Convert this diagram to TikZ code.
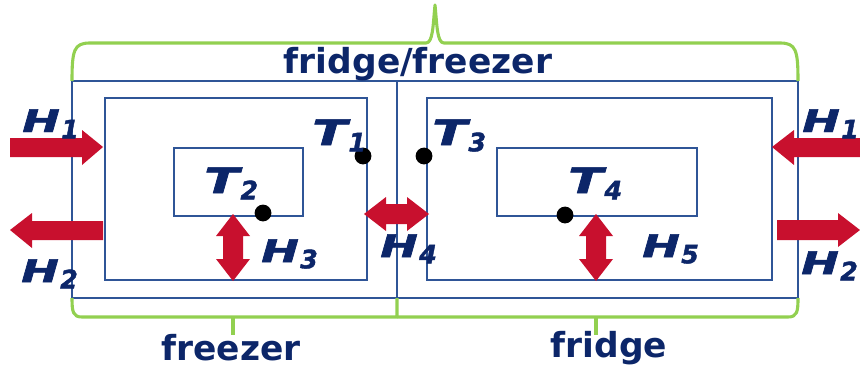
\documentclass[tikz,border=0pt]{standalone}
\usepackage{fontspec}
\usepackage{graphicx}
\newfontfamily\dvs{DejaVu Sans}
\newfontfamily\lblfont{DejaVu Sans}[FakeBold=1.6]
\definecolor{navy}{RGB}{12,38,105}
\definecolor{boxblue}{RGB}{47,85,151}
\definecolor{heatred}{RGB}{200,16,46}
\definecolor{bracegreen}{RGB}{146,208,80}
\newcommand\lab[3]{{\lblfont\bfseries\itshape\fontsize{#3}{#3}\selectfont\scalebox{1.45}[1]{#1}\kern1pt\raisebox{-4.5pt}{\fontsize{18}{18}\selectfont #2}}}
\begin{document}
\begin{tikzpicture}[x=0.025cm,y=-0.025cm,
  wall/.style={draw=boxblue,line width=1.4pt},
  brace/.style={draw=bracegreen,line width=2.2pt,line join=round},
  heat/.style={fill=heatred,draw=none},
  probe/.style={circle,fill=black,inner sep=0pt,minimum size=0.42cm},
  lbl/.style={anchor=base west,inner sep=0pt,text=navy},
  ttl/.style={anchor=base,inner sep=0pt,text=navy,font=\dvs\bfseries\fontsize{24.5}{24.5}\selectfont}]
\useasboundingbox (0,0) rectangle (860,374);
% walls
\draw[wall] (72,81) rectangle (798,298);
\draw[wall] (397,81) -- (397,298);
\draw[wall] (105,98) rectangle (367,280);
\draw[wall] (174,148) rectangle (303,216);
\draw[wall] (427,98) rectangle (772,280);
\draw[wall] (497,148) rectangle (697,216);
% braces
\draw[brace] (72,81) .. controls (72,50) and (74,43) .. (90,43) -- (426,43)
  .. controls (433,43) and (433,25) .. (435,5) .. controls (437,25) and (437,43) .. (444,43)
  -- (780,43) .. controls (796,43) and (798,50) .. (798,81);
\draw[brace] (72,298) .. controls (72,312) and (73,317) .. (82,317) -- (397,317) -- (397,298);
\draw[brace] (233,317) -- (233,335);
\draw[brace] (397,317) -- (788,317) .. controls (797,317) and (798,312) .. (798,298);
\draw[brace] (596,317) -- (596,335);
% heat arrows
\fill[heat] (10,138) -- (82,138) -- (82,130) -- (103,147) -- (82,165) -- (82,157) -- (10,157) -- cycle;
\fill[heat] (103,221) -- (32,221) -- (32,213) -- (10,230) -- (32,248) -- (32,240) -- (103,240) -- cycle;
\fill[heat] (860,138) -- (794,138) -- (794,130) -- (772,147) -- (794,165) -- (794,157) -- (860,157) -- cycle;
\fill[heat] (777,220) -- (838,220) -- (838,213) -- (860,230) -- (838,247) -- (838,240) -- (777,240) -- cycle;
\fill[heat] (223,236) -- (216,236) -- (233,214) -- (250,236) -- (243,236) -- (243,259) -- (250,259) -- (233,281) -- (216,259) -- (223,259) -- cycle;
\fill[heat] (586,236) -- (579,236) -- (596,214) -- (613,236) -- (606,236) -- (606,259) -- (613,259) -- (596,281) -- (579,259) -- (586,259) -- cycle;
\fill[heat] (386,204) -- (386,197) -- (364,214) -- (386,231) -- (386,224) -- (407,224) -- (407,231) -- (429,214) -- (407,197) -- (407,204) -- cycle;
% probes
\node[probe] (p1) at (363,156) {};
\node[probe] (p3) at (424,156) {};
\node[probe] (p2) at (263,213) {};
\node[probe] (p4) at (565,215) {};
% labels
\node[lbl] (h1l) at (22,132) {\lab{H}{1}{22}};
\node[lbl] (h2l) at (21,282) {\lab{H}{2}{22}};
\node[lbl] (t1) at (312,145) {\lab{T}{1}{25}};
\node[lbl] (t2) at (204,193) {\lab{T}{2}{25}};
\node[lbl] (t3) at (432,145) {\lab{T}{3}{25}};
\node[lbl] (t4) at (568,193) {\lab{T}{4}{25}};
\node[lbl] (h3) at (261,262) {\lab{H}{3}{22}};
\node[lbl] (h4) at (380,257) {\lab{H}{4}{22}};
\node[lbl] (h5) at (642,257) {\lab{H}{5}{22}};
\node[lbl] (h1r) at (802,132) {\lab{H}{1}{22}};
\node[lbl] (h2r) at (801,274) {\lab{H}{2}{22}};
% titles
\node[ttl] (ff) at (418,73) {fridge/freezer};
\node[ttl] (fz) at (231,360) {freezer};
\node[ttl] (fr) at (609,357) {fridge};
\end{tikzpicture}
\end{document}
